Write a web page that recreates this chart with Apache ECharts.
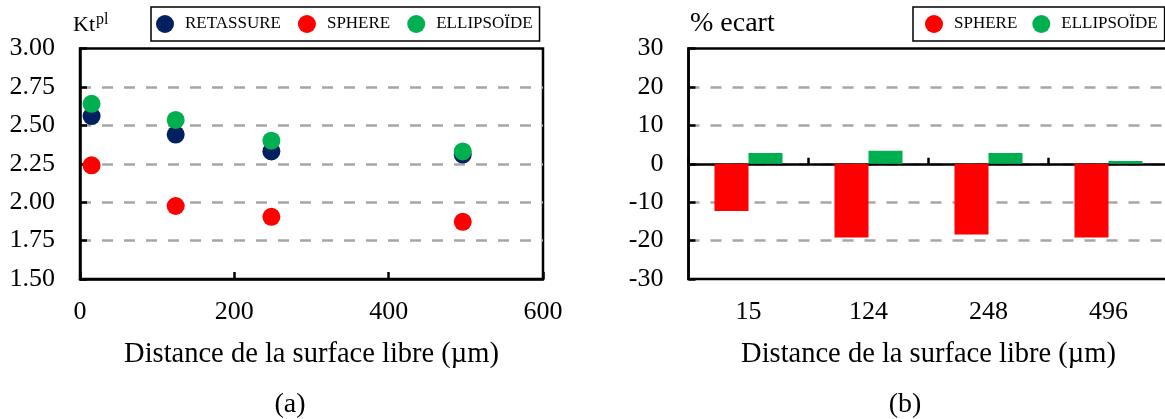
<!DOCTYPE html>
<html>
<head>
<meta charset="utf-8">
<script src="https://cdn.jsdelivr.net/npm/echarts@6/dist/echarts.min.js"></script>
<style>
  html, body { margin: 0; padding: 0; background: #fff; }
  #chart { width: 1165px; height: 419px; }
</style>
</head>
<body>
<div id="chart"></div>
<script>
// ---- Data ----
const xDist = [15, 124, 248, 496];
const ktRetassure = [2.56, 2.44, 2.33, 2.31];
const ktSphere = [2.24, 1.975, 1.905, 1.872];
const ktEllipsoide = [2.64, 2.535, 2.40, 2.33];

const catLabels = ['15', '124', '248', '496'];
const ecartSphere = [-12.3, -19.2, -18.4, -19.2];
const ecartEllipsoide = [2.8, 3.4, 2.8, 0.7];

const seriesNames = ['RETASSURE', 'SPHERE', 'ELLIPSOÏDE'];
const colors = { 'RETASSURE': '#002060', 'SPHERE': '#FF0000', 'ELLIPSOÏDE': '#00B050' };

const FONT = 'Liberation Serif';
const zip = (xs, ys) => xs.map((x, i) => [x, ys[i]]);

const tickLabel = { fontSize: 26, fontFamily: FONT, color: '#000' };
const blackLine = { color: '#000', width: 2.5 };
const dashed = { show: true, showMinLine: false, showMaxLine: false,
  lineStyle: { color: '#A6A6A6', width: 2.5, type: [11, 11] } };
const axisName = { fontSize: 28.5, fontFamily: FONT, color: '#000' };
const plain = (size) => ({ fontSize: size, fontWeight: 'normal', fontFamily: FONT, color: '#000' });

const chart = echarts.init(document.getElementById('chart'), null, { renderer: 'canvas' });

const option = {
  animation: false,
  backgroundColor: '#fff',
  title: [
    { text: 'Kt', left: 73, top: 14, padding: 0, textStyle: plain(22) },
    { text: 'pl', left: 96, top: 12, padding: 0, textStyle: plain(16) },
    { text: '% ecart', left: 690, top: 10, padding: 0, textStyle: plain(28) },
    { text: '(a)', left: 290, top: 391, padding: 0, textAlign: 'center', textStyle: plain(28) },
    { text: '(b)', left: 905, top: 391, padding: 0, textAlign: 'center', textStyle: plain(28) }
  ],
  legend: [
    {
      data: seriesNames, left: 151, top: 7, orient: 'horizontal',
      icon: 'circle', itemWidth: 18, itemHeight: 18, itemGap: 17,
      padding: [8, 7, 8, 5], borderColor: '#000', borderWidth: 1.5, borderRadius: 0,
      itemStyle: { opacity: 1 },
      textStyle: { fontSize: 17, fontFamily: FONT, color: '#000', padding: [0, 0, 0, 6] },
      selectedMode: false
    },
    {
      data: ['SPHERE', 'ELLIPSOÏDE'], left: 913, top: 7, orient: 'horizontal',
      icon: 'circle', itemWidth: 18, itemHeight: 18, itemGap: 15,
      padding: [8, 7, 8, 12], borderColor: '#000', borderWidth: 1.5, borderRadius: 0,
      itemStyle: { opacity: 1 },
      textStyle: { fontSize: 17, fontFamily: FONT, color: '#000', padding: [0, 0, 0, 6] },
      selectedMode: false
    }
  ],
  grid: [
    { left: 80, top: 48.5, width: 463, height: 230.5, show: true, borderColor: '#000', borderWidth: 2.5,
      containLabel: false, outerBoundsMode: 'none' },
    { left: 688.5, top: 48.5, width: 480, height: 230.5, show: true, borderColor: '#000', borderWidth: 2.5,
      containLabel: false, outerBoundsMode: 'none' }
  ],
  xAxis: [
    {
      gridIndex: 0, type: 'value', min: 0, max: 600, interval: 200, position: 'bottom',
      axisLine: { show: true, onZero: false, lineStyle: blackLine },
      axisTick: { show: true, inside: true, length: 7, lineStyle: blackLine },
      axisLabel: Object.assign({ margin: 20 }, tickLabel),
      splitLine: { show: false },
      name: 'Distance de la surface libre (µm)', nameLocation: 'middle', nameGap: 61,
      nameTextStyle: axisName
    },
    {
      gridIndex: 1, type: 'category', data: catLabels, position: 'bottom',
      axisLine: { show: true, onZero: true, lineStyle: blackLine },
      axisTick: { show: true, inside: true, length: 6, lineStyle: blackLine },
      axisLabel: { show: false },
      splitLine: { show: false }
    },
    {
      gridIndex: 1, type: 'category', data: catLabels, position: 'bottom',
      axisLine: { show: false, onZero: false },
      axisTick: { show: false },
      axisLabel: Object.assign({ margin: 20 }, tickLabel),
      splitLine: { show: false },
      name: 'Distance de la surface libre (µm)', nameLocation: 'middle', nameGap: 61,
      nameTextStyle: axisName
    }
  ],
  yAxis: [
    {
      gridIndex: 0, type: 'value', min: 1.5, max: 3, interval: 0.25,
      axisLine: { show: true, lineStyle: blackLine },
      axisTick: { show: true, inside: true, length: 7, lineStyle: blackLine },
      axisLabel: Object.assign({ margin: 25, formatter: v => v.toFixed(2) }, tickLabel),
      splitLine: dashed
    },
    {
      gridIndex: 1, type: 'value', min: -30, max: 30, interval: 10,
      axisLine: { show: true, lineStyle: blackLine },
      axisTick: { show: true, inside: true, length: 7, lineStyle: blackLine },
      axisLabel: Object.assign({ margin: 25 }, tickLabel),
      splitLine: dashed
    }
  ],
  series: [
    { name: 'RETASSURE', type: 'scatter', xAxisIndex: 0, yAxisIndex: 0, symbol: 'circle', symbolSize: 18,
      itemStyle: { color: colors['RETASSURE'], opacity: 1 }, data: zip(xDist, ktRetassure), z: 3 },
    { name: 'SPHERE', type: 'scatter', xAxisIndex: 0, yAxisIndex: 0, symbol: 'circle', symbolSize: 18,
      itemStyle: { color: colors['SPHERE'], opacity: 1 }, data: zip(xDist, ktSphere), z: 4 },
    { name: 'ELLIPSOÏDE', type: 'scatter', xAxisIndex: 0, yAxisIndex: 0, symbol: 'circle', symbolSize: 18,
      itemStyle: { color: colors['ELLIPSOÏDE'], opacity: 1 }, data: zip(xDist, ktEllipsoide), z: 5 },
    { name: 'SPHERE', type: 'bar', xAxisIndex: 1, yAxisIndex: 1, barWidth: 34, barGap: '0%',
      itemStyle: { color: colors['SPHERE'], opacity: 1 }, data: ecartSphere },
    { name: 'ELLIPSOÏDE', type: 'bar', xAxisIndex: 1, yAxisIndex: 1, barWidth: 34, barGap: '0%',
      itemStyle: { color: colors['ELLIPSOÏDE'], opacity: 1 }, data: ecartEllipsoide }
  ]
};

chart.setOption(option);
</script>
</body>
</html>
